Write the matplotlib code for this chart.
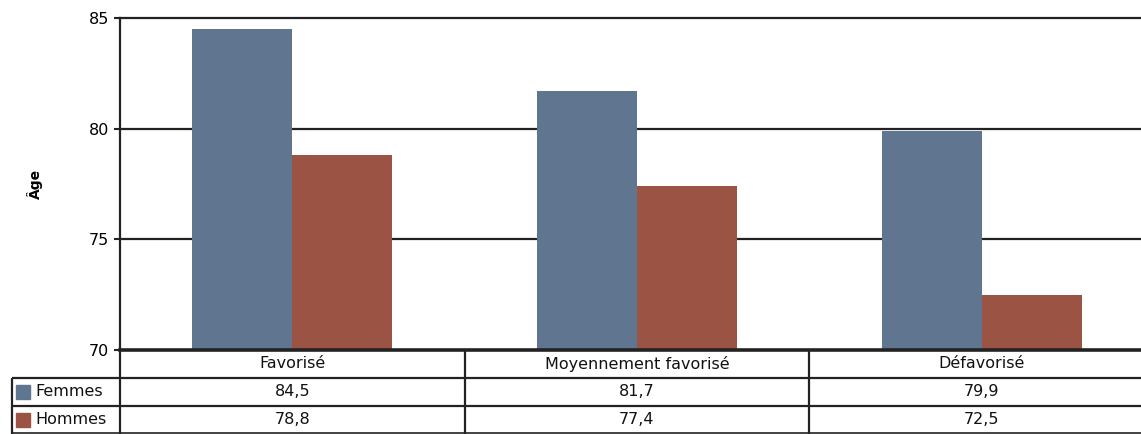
import numpy as np
import matplotlib.pyplot as plt
import matplotlib.transforms as mtrans
from matplotlib.patches import Rectangle

# ----------------------------------------------------------------------
# Data
# ----------------------------------------------------------------------
categories = ["Favorisé", "Moyennement favorisé", "Défavorisé"]
series_names = ["Femmes", "Hommes"]
femmes = [84.5, 81.7, 79.9]
hommes = [78.8, 77.4, 72.5]
colors = ["#607590", "#9B5444"]
yticks = [70, 75, 80, 85]

W, H = 1141, 434
plt.rcParams["font.family"] = "DejaVu Sans"
fig = plt.figure(figsize=(W / 100, H / 100), dpi=100)
FS = 11.5

# axes box in pixels (right side runs past the figure edge, as in the original)
x0, x1 = 120, 1154
y_top, y_bot = 18, 350
ax = fig.add_axes([x0 / W, 1 - y_bot / H, (x1 - x0) / W, (y_bot - y_top) / H])

x = np.arange(len(categories))
bw = 0.29
values = [femmes, hommes]
for i, vals in enumerate(values):
    off = (i - 0.5) * bw
    ax.bar(x + off, np.array(vals) - 70, bottom=70, width=bw,
           color=colors[i], edgecolor="none", zorder=2)

ax.set_xlim(-0.5, len(categories) - 0.5)
ax.set_ylim(70, 85)
ax.set_yticks(yticks)
ax.set_yticklabels([str(t) for t in yticks], fontsize=FS)
ax.set_xticks([])
ax.tick_params(axis="y", length=4, width=1.5, color="#222222", pad=4)
for t in yticks[1:]:
    ax.axhline(t, color="#222222", lw=1.6, zorder=1, clip_on=False)
for side in ["top", "right"]:
    ax.spines[side].set_visible(False)
ax.spines["left"].set_linewidth(1.6)
ax.spines["left"].set_color("#222222")
ax.spines["bottom"].set_linewidth(2.6)
ax.spines["bottom"].set_color("#222222")
ax.spines["bottom"].set_zorder(3)
ax.set_ylabel("Âge", fontsize=10, fontweight="bold")
ax.yaxis.set_label_coords((43 - x0) / (x1 - x0), 0.5)

# ----------------------------------------------------------------------
# Data table below the plot (pixel coordinates, origin top-left)
# ----------------------------------------------------------------------
tr = mtrans.Affine2D().scale(1, -1).translate(0, H)


def fig_line(xs, ys, lw=1.6):
    fig.add_artist(plt.Line2D(xs, ys, transform=tr, color="#222222", lw=lw,
                              solid_capstyle="butt"))


row_h = 28
rows_y = [y_bot, y_bot + row_h, y_bot + 2 * row_h, H]
col_x = [x0 + (x1 - x0) * k / 3 for k in range(4)]
leg_left = 12

fig_line([leg_left, W], [rows_y[1], rows_y[1]])
fig_line([leg_left, W], [rows_y[2], rows_y[2]])
fig_line([leg_left, W], [H - 1, H - 1], lw=1.2)
fig_line([leg_left, leg_left], [rows_y[1], H])
for cx in col_x[:3]:
    fig_line([cx, cx], [y_bot, H])

for k, cat in enumerate(categories):
    cx = (col_x[k] + col_x[k + 1]) / 2
    fig.text(cx / W, 1 - (y_bot + row_h / 2) / H, cat, ha="center",
             va="center", fontsize=FS, color="#111111")

for i, (name, vals) in enumerate(zip(series_names, values)):
    yc = (rows_y[i + 1] + rows_y[i + 2]) / 2
    fig.add_artist(Rectangle(((leg_left + 4) / W, 1 - (yc + 7) / H),
                             14 / W, 14 / H, transform=fig.transFigure,
                             color=colors[i]))
    fig.text((leg_left + 23) / W, 1 - yc / H, name, ha="left", va="center",
             fontsize=FS, color="#111111")
    for k, v in enumerate(vals):
        cx = (col_x[k] + col_x[k + 1]) / 2
        fig.text(cx / W, 1 - yc / H, f"{v:.1f}".replace(".", ","),
                 ha="center", va="center", fontsize=FS, color="#111111")

fig.savefig("out.png", dpi=100)
